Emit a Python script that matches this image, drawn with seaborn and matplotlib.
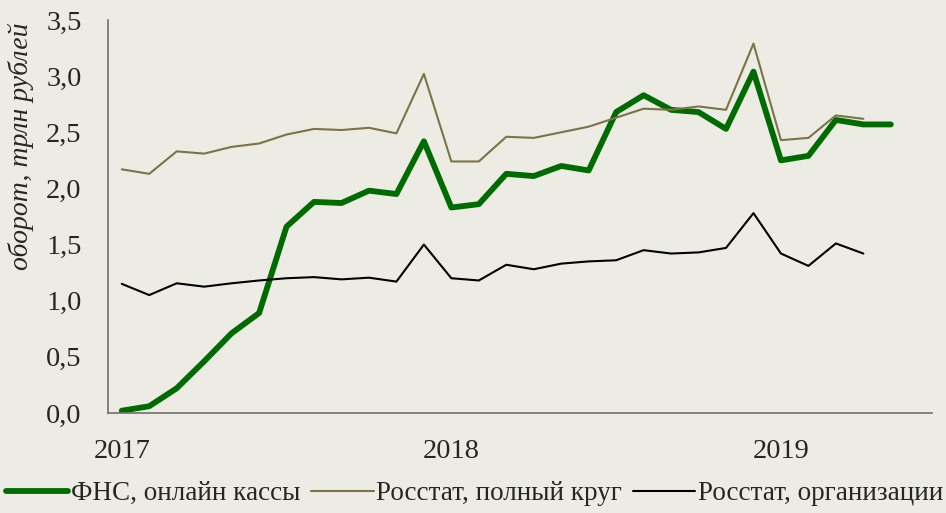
import numpy as np
import pandas as pd
import matplotlib
matplotlib.use("Agg")
import matplotlib.pyplot as plt
import seaborn as sns

# monthly points, Jan 2017 .. May 2019 (month index 0 = Jan 2017)
months = list(range(29))
fns = [0.02, 0.06, 0.22, 0.46, 0.71, 0.89, 1.66, 1.88, 1.87, 1.98, 1.95, 2.42,
       1.83, 1.86, 2.13, 2.11, 2.20, 2.16, 2.68, 2.83, 2.70, 2.68, 2.53, 3.04,
       2.25, 2.29, 2.61, 2.57, 2.57]
rosstat_full = [2.17, 2.13, 2.33, 2.31, 2.37, 2.40, 2.48, 2.53, 2.52, 2.54, 2.49, 3.02,
                2.24, 2.24, 2.46, 2.45, 2.50, 2.55, 2.63, 2.71, 2.70, 2.73, 2.70, 3.29,
                2.43, 2.45, 2.65, 2.62]
rosstat_org = [1.15, 1.05, 1.155, 1.125, 1.155, 1.18, 1.20, 1.21, 1.19, 1.205, 1.17, 1.50,
               1.20, 1.18, 1.32, 1.28, 1.33, 1.35, 1.36, 1.45, 1.42, 1.43, 1.47, 1.78,
               1.42, 1.31, 1.51, 1.42]
year_labels = ["2017", "2018", "2019"]
series_names = ["ФНС, онлайн кассы", "Росстат, полный круг", "Росстат, организации"]

bg = "#EDECE4"
colors = ["#006B00", "#7A7446", "#000000"]
widths = [4.2, 1.5, 1.5]


def build_frame():
    """Long table: one row per month and series, x at the middle of the month."""
    parts = []
    for name, vals in zip(series_names, [fns, rosstat_full, rosstat_org]):
        parts.append(pd.DataFrame({
            "x": np.array(months[:len(vals)]) + 0.5,
            "value": vals,
            "series": name,
        }))
    return pd.concat(parts, ignore_index=True)


def main():
    df = build_frame()

    sns.set_style("white")
    plt.rcParams["font.family"] = ["Liberation Serif", "DejaVu Serif"]

    fig = plt.figure(figsize=(9.46, 5.13), dpi=100, facecolor=bg)
    ax = fig.add_axes([0.1142, 0.195, 0.8710, 0.766])
    ax.set_facecolor(bg)

    for name, col, lw in zip(series_names, colors, widths):
        sns.lineplot(data=df[df["series"] == name], x="x", y="value", ax=ax,
                     color=col, linewidth=lw, label=name,
                     solid_joinstyle="round", solid_capstyle="round")

    ax.set_xlim(0, 30)
    ax.set_ylim(0, 3.5)
    ax.set_yticks(np.arange(0, 3.51, 0.5))
    ax.set_yticklabels([f"{v:.1f}".replace(".", ",") for v in np.arange(0, 3.51, 0.5)])

    # year boundaries get the tick marks, labels sit under January
    ax.set_xticks([0, 12, 24])
    ax.set_xticklabels([])
    ax.set_xticks([0.5, 12.5, 24.5], minor=True)
    ax.set_xticklabels(year_labels, minor=True)
    ax.tick_params(axis="x", which="major", direction="out", length=8,
                   width=1, color="#6E6E6E")
    ax.tick_params(axis="x", which="minor", length=0, pad=19, labelsize=20.5)
    ax.tick_params(axis="y", direction="out", length=8, width=1,
                   color="#6E6E6E", labelsize=20.5, pad=11)

    for s in ["top", "right"]:
        ax.spines[s].set_visible(False)
    for s in ["left", "bottom"]:
        ax.spines[s].set_color("#6E6E6E")
        ax.spines[s].set_linewidth(1.2)

    ax.set_xlabel("")
    ax.set_ylabel("оборот, трлн рублей", fontsize=20, style="italic")
    ax.yaxis.set_label_coords(-0.09, 0.68)

    ax.legend(loc="lower center", bbox_to_anchor=(0.445, -0.265), ncol=3,
              frameon=False, fontsize=19.5, handlelength=2.3,
              handletextpad=0.1, columnspacing=0.4, borderaxespad=0)

    fig.savefig("out.png", dpi=100, facecolor=bg)


if __name__ == "__main__":
    main()
